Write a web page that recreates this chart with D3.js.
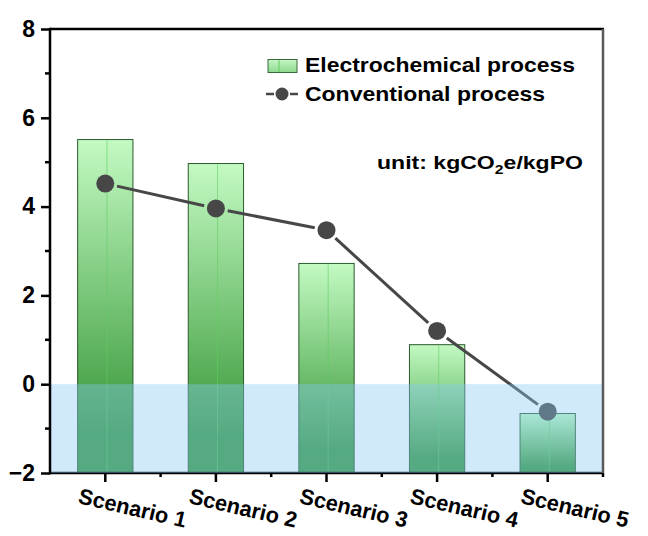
<!DOCTYPE html>
<html>
<head>
<meta charset="utf-8">
<script src="https://cdn.jsdelivr.net/npm/d3@7"></script>
<style>
  html, body { margin: 0; padding: 0; background: #fff; }
  svg { display: block; font-family: "Liberation Sans", Arial, sans-serif; }
</style>
</head>
<body>
<svg id="chart" width="648" height="536"></svg>
<script>
// Carbon footprint per scenario (kgCO2e/kgPO)
const categories = ["Scenario 1", "Scenario 2", "Scenario 3", "Scenario 4", "Scenario 5"];
const electrochemical = [5.51, 4.97, 2.72, 0.89, -0.66];
const conventional = [4.52, 3.96, 3.47, 1.20, -0.62];
const yMajorTicks = [-2, 0, 2, 4, 6, 8];
const yMinorTicks = [-1, 1, 3, 5, 7];
const legendLabels = ["Electrochemical process", "Conventional process"];

const svg = d3.select("#chart");
const margin = { left: 50, right: 45, top: 29, bottom: 63 };
const W = 648, H = 536;
const plotW = W - margin.left - margin.right;
const plotH = H - margin.top - margin.bottom;

const x = d3.scaleBand().domain(categories).range([margin.left, margin.left + plotW])
  .paddingInner(0.5).paddingOuter(0.25);
const y = d3.scaleLinear().domain([-2, 8]).range([margin.top + plotH, margin.top]);

const defs = svg.append("defs");
const grad = defs.append("linearGradient").attr("id", "barGrad")
  .attr("x1", 0).attr("y1", 0).attr("x2", 0).attr("y2", 1);
grad.append("stop").attr("offset", 0).attr("stop-color", "#c3fac3");
grad.append("stop").attr("offset", 0.884).attr("stop-color", "#379737");
grad.append("stop").attr("offset", 1).attr("stop-color", "#379737");

const base = y.domain()[0];
const bw = x.bandwidth();

// Bars run from the value down to the bottom of the axis
const bars = svg.append("g");
bars.selectAll("rect").data(electrochemical).join("rect")
  .attr("x", (d, i) => x(categories[i]))
  .attr("y", d => y(d))
  .attr("width", bw)
  .attr("height", d => y(base) - y(d))
  .attr("fill", "url(#barGrad)")
  .attr("stroke", "#2c5a2c").attr("stroke-width", 1);
// centre seam of each bar
bars.selectAll("line.seam").data(electrochemical).join("line").attr("class", "seam")
  .attr("x1", (d, i) => x(categories[i]) + bw * 0.53)
  .attr("x2", (d, i) => x(categories[i]) + bw * 0.53)
  .attr("y1", d => y(d) + 1).attr("y2", y(base))
  .attr("stroke", "#5fcf5f").attr("stroke-opacity", 0.6).attr("stroke-width", 1);
// gradient end line near the bottom of each bar
bars.selectAll("line.band").data(electrochemical).join("line").attr("class", "band")
  .attr("x1", (d, i) => x(categories[i]))
  .attr("x2", (d, i) => x(categories[i]) + bw)
  .attr("y1", d => y(d) + 0.884 * (y(base) - y(d)))
  .attr("y2", d => y(d) + 0.884 * (y(base) - y(d)))
  .attr("stroke", "#2f9a3f").attr("stroke-width", 1);

// Conventional process line with markers; segments stop short of markers
const r = 9, gap = 3;
const pts = conventional.map((v, i) => [x(categories[i]) + bw / 2, y(v)]);
const lineG = svg.append("g");
for (let i = 0; i < pts.length - 1; i++) {
  const [x0, y0] = pts[i], [x1, y1] = pts[i + 1];
  const len = Math.hypot(x1 - x0, y1 - y0);
  const ux = (x1 - x0) / len, uy = (y1 - y0) / len;
  const s = r + gap;
  lineG.append("line")
    .attr("x1", x0 + ux * s).attr("y1", y0 + uy * s)
    .attr("x2", x1 - ux * s).attr("y2", y1 - uy * s)
    .attr("stroke", "#474747").attr("stroke-width", 3);
}
lineG.selectAll("circle").data(conventional).join("circle")
  .attr("cx", (d, i) => x(categories[i]) + bw / 2)
  .attr("cy", d => y(d))
  .attr("r", r).attr("fill", "#474747");

// Bottom axis line (under the negative-region shading)
svg.append("line")
  .attr("x1", margin.left).attr("x2", margin.left + plotW)
  .attr("y1", y(base)).attr("y2", y(base))
  .attr("stroke", "#000").attr("stroke-width", 2.5);

// Shading of the negative region
svg.append("rect")
  .attr("x", margin.left).attr("y", y(0))
  .attr("width", plotW).attr("height", y(base) - y(0))
  .attr("fill", "rgb(134,201,247)").attr("fill-opacity", 0.39);

// Frame: top and right edges
svg.append("line")
  .attr("x1", margin.left).attr("x2", margin.left + plotW + 1)
  .attr("y1", margin.top).attr("y2", margin.top)
  .attr("stroke", "#000").attr("stroke-width", 2.5);
svg.append("line")
  .attr("x1", margin.left + plotW).attr("x2", margin.left + plotW)
  .attr("y1", margin.top).attr("y2", y(base))
  .attr("stroke", "#5a5a5a").attr("stroke-width", 2.5);

// Left axis
const yAxis = svg.append("g").attr("transform", `translate(${margin.left},0)`)
  .call(d3.axisLeft(y).tickValues(yMajorTicks).tickSize(9).tickPadding(6).tickFormat(d3.format("d")));
yAxis.select(".domain").attr("stroke-width", 2.5).attr("d", `M0,${y(base) + 1.2}V${margin.top - 1.2}`);
yAxis.selectAll(".tick line").attr("stroke-width", 2.5);
yAxis.selectAll(".tick text").attr("font-size", 23).attr("font-weight", "bold")
  .attr("font-family", "Liberation Sans, Arial, sans-serif").attr("fill", "#000");
svg.append("g").selectAll("line").data(yMinorTicks).join("line")
  .attr("x1", margin.left - 5).attr("x2", margin.left)
  .attr("y1", d => y(d)).attr("y2", d => y(d))
  .attr("stroke", "#000").attr("stroke-width", 2.5);

// Bottom axis ticks and labels
const xAxis = svg.append("g").attr("transform", `translate(0,${y(base)})`);
xAxis.selectAll("line.major").data(categories).join("line").attr("class", "major")
  .attr("x1", d => x(d) + bw / 2).attr("x2", d => x(d) + bw / 2)
  .attr("y1", 0).attr("y2", 9).attr("stroke", "#000").attr("stroke-width", 2.5);
xAxis.selectAll("line.minor").data(d3.range(1, categories.length + 1)).join("line").attr("class", "minor")
  .attr("x1", i => x(categories[0]) + bw / 2 + x.step() * (i - 0.5))
  .attr("x2", i => x(categories[0]) + bw / 2 + x.step() * (i - 0.5))
  .attr("y1", 0).attr("y2", 4).attr("stroke", "#000").attr("stroke-width", 2.5);
xAxis.selectAll("text").data(categories).join("text")
  .attr("transform", d => `translate(${x(d) + bw / 2 - 28},${30}) rotate(13)`)
  .attr("font-size", 22).attr("font-weight", "bold").attr("fill", "#000")
  .attr("textLength", 110).attr("lengthAdjust", "spacingAndGlyphs")
  .text(d => d);

// Legend
const lg = svg.append("g");
const legGrad = defs.append("linearGradient").attr("id", "legGrad")
  .attr("x1", 0).attr("y1", 0).attr("x2", 0).attr("y2", 1);
legGrad.append("stop").attr("offset", 0).attr("stop-color", "#c6f7c6");
legGrad.append("stop").attr("offset", 1).attr("stop-color", "#8ed88e");
lg.append("rect").attr("x", 268).attr("y", 59.5).attr("width", 29).attr("height", 13)
  .attr("fill", "url(#legGrad)").attr("stroke", "#3a6a3a").attr("stroke-width", 1);
lg.append("line").attr("x1", 279).attr("x2", 279).attr("y1", 60).attr("y2", 72)
  .attr("stroke", "#5fcf5f").attr("stroke-width", 1);
lg.append("text").attr("x", 305).attr("y", 72).attr("font-size", 21).attr("font-weight", "bold")
  .attr("textLength", 270).attr("lengthAdjust", "spacingAndGlyphs")
  .text(legendLabels[0]);
lg.append("line").attr("x1", 266).attr("x2", 274).attr("y1", 94).attr("y2", 94)
  .attr("stroke", "#474747").attr("stroke-width", 2.5);
lg.append("line").attr("x1", 290).attr("x2", 298).attr("y1", 94).attr("y2", 94)
  .attr("stroke", "#474747").attr("stroke-width", 2.5);
lg.append("circle").attr("cx", 282).attr("cy", 94).attr("r", 6.5).attr("fill", "#474747");
lg.append("text").attr("x", 305).attr("y", 101).attr("font-size", 21).attr("font-weight", "bold")
  .attr("textLength", 240).attr("lengthAdjust", "spacingAndGlyphs")
  .text(legendLabels[1]);

// Unit note
const unit = svg.append("text").attr("x", 377).attr("y", 169)
  .attr("font-size", 19).attr("font-weight", "bold")
  .attr("textLength", 206).attr("lengthAdjust", "spacingAndGlyphs");
unit.append("tspan").text("unit: kgCO");
unit.append("tspan").attr("font-size", 13).attr("dy", 5).text("2");
unit.append("tspan").attr("dy", -5).text("e/kgPO");
</script>
</body>
</html>
